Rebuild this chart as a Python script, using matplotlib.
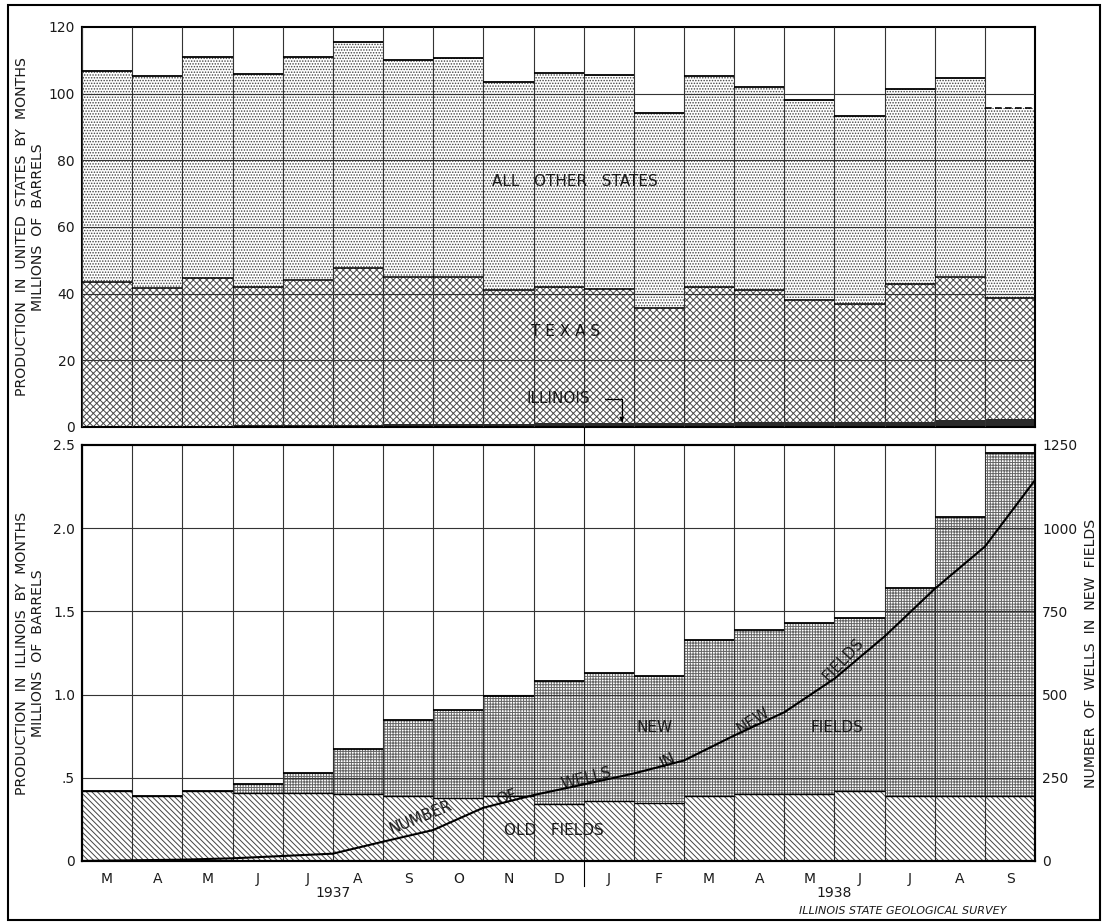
import matplotlib.pyplot as plt
import numpy as np
from matplotlib.patches import Rectangle

plt.rcParams['font.family'] = 'DejaVu Sans'
plt.rcParams['hatch.linewidth'] = 0.7

months = ['M', 'A', 'M', 'J', 'J', 'A', 'S', 'O', 'N', 'D',
          'J', 'F', 'M', 'A', 'M', 'J', 'J', 'A', 'S']

# Illinois production by months, millions of barrels
old_fields = [0.42, 0.39, 0.42, 0.41, 0.41, 0.40, 0.39, 0.38, 0.39, 0.34,
              0.36, 0.35, 0.39, 0.40, 0.40, 0.42, 0.39, 0.39, 0.39]
new_fields = [0.0, 0.0, 0.0, 0.05, 0.12, 0.27, 0.46, 0.53, 0.60, 0.74,
              0.77, 0.76, 0.94, 0.99, 1.03, 1.04, 1.25, 1.68, 2.06]

# United States production by months, millions of barrels
texas = [43.2, 41.2, 44.4, 41.6, 43.6, 46.9, 44.0, 44.2, 40.0, 40.8,
         40.2, 34.7, 40.8, 39.7, 36.7, 35.3, 41.2, 43.0, 36.2]
other_states = [63.1, 63.8, 66.1, 63.8, 66.8, 67.8, 65.1, 65.6, 62.6, 64.3,
                64.2, 58.4, 63.1, 60.8, 60.1, 56.6, 58.7, 59.6, 57.1]

# number of wells in new fields at end of each month
wells = [2, 4, 8, 15, 22, 58, 93, 160, 198, 230,
         263, 302, 377, 447, 548, 675, 818, 945, 1145]

x = np.arange(len(months))
old = np.array(old_fields)
new = np.array(new_fields)
illinois = old + new
tex = np.array(texas)
oth = np.array(other_states)

fig = plt.figure(figsize=(11.07, 9.24), dpi=100)
ax1 = fig.add_axes([0.0741, 0.5379, 0.861, 0.4329])
ax2 = fig.add_axes([0.0741, 0.0682, 0.861, 0.4502])
ax3 = ax2.twinx()

txt = '#1a1a1a'
grid_c = '#333333'

# ---- top panel ----
ax1.bar(x, illinois, width=1, color='#2a2a2a', linewidth=0, zorder=1)
ax1.bar(x, tex, bottom=illinois, width=1, color='white', edgecolor='#4a4a4a',
        hatch='xxxxx', linewidth=0, zorder=1)
ax1.bar(x, oth, bottom=illinois + tex, width=1, color='white', edgecolor='#444444',
        hatch='......', linewidth=0, zorder=1)

tops = illinois + tex + oth
ax1.hlines(tops[:-1], x[:-1] - 0.5, x[:-1] + 0.5, color='black', lw=1.3, zorder=4)
ax1.hlines(tops[-1:], x[-1:] - 0.5, x[-1:] + 0.5, color='black', lw=1.2,
           linestyles=(0, (4, 2)), zorder=4)
ax1.hlines(illinois + tex, x - 0.5, x + 0.5, color='black', lw=1.1, zorder=4)

for yv in range(20, 120, 20):
    ax1.axhline(yv, color=grid_c, lw=0.8, zorder=3)
ax1.vlines(np.arange(-0.5, len(months)), 0, 120, color=grid_c, lw=0.8, zorder=3)

ax1.set_xlim(-0.5, len(months) - 0.5)
ax1.set_ylim(0, 120)
ax1.set_yticks(range(0, 121, 20))
ax1.set_xticks([])
ax1.tick_params(axis='y', length=0, pad=5, labelsize=10, labelcolor=txt)

ax1.text(9.32, 73.5, 'ALL   OTHER   STATES', ha='center', va='center', fontsize=11,
         color=txt, zorder=5)
ax1.text(9.13, 28.5, 'T E X A S', ha='center', va='center', fontsize=11,
         color=txt, zorder=5)
ax1.text(9.0, 8.5, 'ILLINOIS', ha='center', va='center', fontsize=11,
         color=txt, zorder=5)
ax1.annotate('', xy=(10.26, 1.5), xytext=(9.92, 8.5),
             arrowprops=dict(arrowstyle='-|>', color='black', lw=0.9,
                             mutation_scale=6, shrinkA=0, shrinkB=0,
                             connectionstyle='angle,angleA=0,angleB=90,rad=0'),
             zorder=5)

ax1.text(-0.055, 0.5, 'PRODUCTION  IN  UNITED  STATES  BY  MONTHS\nMILLIONS  OF  BARRELS',
         transform=ax1.transAxes, rotation=90, ha='center', va='center',
         multialignment='center', fontsize=10.2, color=txt, linespacing=1.2)

# ---- bottom panel ----
ax2.bar(x, old, width=1, color='white', edgecolor='#444444', hatch='\\\\\\\\\\\\',
        linewidth=0, zorder=1)
ax2.bar(x, new, bottom=old, width=1, color='white', edgecolor='#666666',
        hatch='++++++', linewidth=0, zorder=1)
ax2.hlines(old + new, x - 0.5, x + 0.5, color='black', lw=1.3, zorder=4)
ax2.hlines(old, x - 0.5, x + 0.5, color='black', lw=1.0, zorder=4)

for yv in [0.5, 1.0, 1.5, 2.0]:
    ax2.axhline(yv, color=grid_c, lw=0.8, zorder=3)
ax2.vlines(np.arange(-0.5, len(months)), 0, 2.5, color=grid_c, lw=0.8, zorder=3)

ax2.set_xlim(-0.5, len(months) - 0.5)
ax2.set_ylim(0, 2.5)
ax2.set_yticks([0, 0.5, 1.0, 1.5, 2.0, 2.5])
ax2.set_yticklabels(['0', '.5', '1.0', '1.5', '2.0', '2.5'])
ax2.set_xticks(x)
ax2.set_xticklabels(months)
ax2.tick_params(axis='y', length=0, pad=5, labelsize=10, labelcolor=txt)
ax2.tick_params(axis='x', length=0, pad=8, labelsize=10, labelcolor=txt)

ax3.plot(np.concatenate([[-0.5], x + 0.5]), [0] + wells, color='black', lw=1.5, zorder=6)
ax3.set_ylim(0, 1250)
ax3.set_yticks(range(0, 1251, 250))
ax3.tick_params(axis='y', length=0, pad=5, labelsize=10, labelcolor=txt)
ax3.text(1.059, 0.5, 'NUMBER  OF  WELLS  IN  NEW  FIELDS', transform=ax3.transAxes,
         rotation=90, ha='center', va='center', fontsize=10.2, color=txt)

ax2.text(-0.055, 0.5, 'PRODUCTION  IN  ILLINOIS  BY  MONTHS\nMILLIONS  OF  BARRELS',
         transform=ax2.transAxes, rotation=90, ha='center', va='center',
         multialignment='center', fontsize=10.2, color=txt, linespacing=1.2)

# curve and area labels
for s, xd, yd, rot in [('NUMBER', 6.26, 0.264, 22), ('OF', 7.97, 0.379, 18),
                       ('WELLS', 9.56, 0.499, 14), ('IN', 11.18, 0.607, 26),
                       ('NEW', 12.87, 0.847, 33), ('FIELDS', 14.67, 1.208, 47)]:
    ax2.text(xd, yd, s, rotation=rot, rotation_mode='anchor', ha='center',
             va='center', fontsize=11, color=txt, zorder=7)
ax2.text(10.92, 0.805, 'NEW', ha='center', va='center', fontsize=11, color=txt, zorder=7)
ax2.text(14.55, 0.805, 'FIELDS', ha='center', va='center', fontsize=11, color=txt, zorder=7)
ax2.text(8.91, 0.186, 'OLD   FIELDS', ha='center', va='center', fontsize=11, color=txt, zorder=7)

ax2.text(4.5, -0.19, '1937', ha='center', va='center', fontsize=10, color=txt)
ax2.text(14.5, -0.19, '1938', ha='center', va='center', fontsize=10, color=txt)
ax2.text(0.861, -0.12, 'ILLINOIS STATE GEOLOGICAL SURVEY', transform=ax2.transAxes,
         ha='center', va='center', fontsize=8, style='italic', color=txt)

# year divider
ax2.plot([9.5, 9.5], [-0.15, 0], color='black', lw=0.8, clip_on=False)
ax2.plot([9.5, 9.5], [2.5, 2.61], color='black', lw=0.8, clip_on=False)

for ax in (ax1, ax2, ax3):
    for sp in ax.spines.values():
        sp.set_linewidth(1.5)
        sp.set_color('black')

fig.add_artist(Rectangle((8 / 1107, 1 - 920 / 924), 1092 / 1107, 915 / 924,
                         transform=fig.transFigure, fill=False, lw=1.5, color='black'))

fig.savefig('out.png', dpi=100)
